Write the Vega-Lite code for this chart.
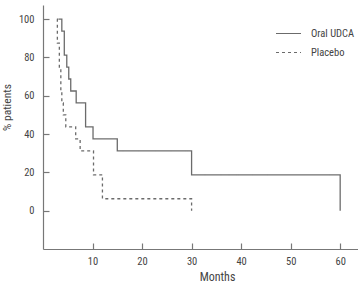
{
  "$schema": "https://vega.github.io/schema/vega-lite/v6.json",
  "width": 315,
  "height": 244,
  "autosize": {"type": "none"},
  "padding": {"left": 43, "top": 5, "right": 0, "bottom": 35},
  "background": "white",
  "config": {
    "font": "Roboto Condensed",
    "view": {"stroke": null},
    "axis": {
      "grid": false,
      "domainColor": "#777777",
      "domainWidth": 1.2,
      "tickColor": "#777777",
      "tickWidth": 1.2,
      "tickSize": -6,
      "labelColor": "#444444",
      "labelFontSize": 10.5,
      "labelFont": "Roboto Condensed",
      "titleFont": "Roboto Condensed",
      "titleColor": "#444444",
      "titleFontSize": 12,
      "titleFontWeight": "normal"
    }
  },
  "data": {
    "values": [
      {"group": "Oral UDCA", "months": 3.1, "pct": 100},
      {"group": "Oral UDCA", "months": 3.8, "pct": 93.75},
      {"group": "Oral UDCA", "months": 4.3, "pct": 81.25},
      {"group": "Oral UDCA", "months": 4.8, "pct": 75},
      {"group": "Oral UDCA", "months": 5.2, "pct": 68.75},
      {"group": "Oral UDCA", "months": 5.6, "pct": 62.5},
      {"group": "Oral UDCA", "months": 6.7, "pct": 56.25},
      {"group": "Oral UDCA", "months": 8.6, "pct": 43.75},
      {"group": "Oral UDCA", "months": 10.1, "pct": 37.5},
      {"group": "Oral UDCA", "months": 15.0, "pct": 31.25},
      {"group": "Oral UDCA", "months": 30.0, "pct": 18.75},
      {"group": "Oral UDCA", "months": 60.0, "pct": 0},
      {"group": "Placebo", "months": 2.8, "pct": 100},
      {"group": "Placebo", "months": 2.9, "pct": 87.5},
      {"group": "Placebo", "months": 3.3, "pct": 75},
      {"group": "Placebo", "months": 3.6, "pct": 62.5},
      {"group": "Placebo", "months": 3.8, "pct": 56.25},
      {"group": "Placebo", "months": 4.1, "pct": 50},
      {"group": "Placebo", "months": 4.6, "pct": 43.75},
      {"group": "Placebo", "months": 6.6, "pct": 37.5},
      {"group": "Placebo", "months": 7.5, "pct": 31.25},
      {"group": "Placebo", "months": 10.2, "pct": 18.75},
      {"group": "Placebo", "months": 12.0, "pct": 6.25},
      {"group": "Placebo", "months": 30.0, "pct": 0}
    ]
  },
  "mark": {"type": "line", "interpolate": "step-after", "color": "#6b6b6b", "strokeWidth": 1.3},
  "encoding": {
    "x": {
      "field": "months",
      "type": "quantitative",
      "scale": {"domain": [0, 63.6], "nice": false, "zero": false},
      "axis": {"title": "Months", "values": [10, 20, 30, 40, 50, 60], "labelPadding": 13, "titleX": 174, "titlePadding": 5}
    },
    "y": {
      "field": "pct",
      "type": "quantitative",
      "scale": {"domain": [-20, 107.4], "nice": false, "zero": false},
      "axis": {"title": "% patients", "titleFontSize": 11.5, "values": [0, 20, 40, 60, 80, 100], "labelPadding": 15, "titleY": 102, "titlePadding": 6}
    },
    "strokeDash": {
      "field": "group",
      "type": "nominal",
      "scale": {"domain": ["Oral UDCA", "Placebo"], "range": [[1, 0], [3, 3]]},
      "legend": {
        "title": null,
        "orient": "none",
        "legendX": 232,
        "legendY": 15,
        "padding": 0,
        "symbolType": "stroke",
        "symbolSize": 625,
        "symbolStrokeColor": "#6b6b6b",
        "symbolStrokeWidth": 1.2,
        "labelFont": "Roboto Condensed",
        "labelFontSize": 10.5,
        "labelColor": "#444444",
        "labelOffset": 9,
        "rowPadding": 0
      }
    }
  }
}
